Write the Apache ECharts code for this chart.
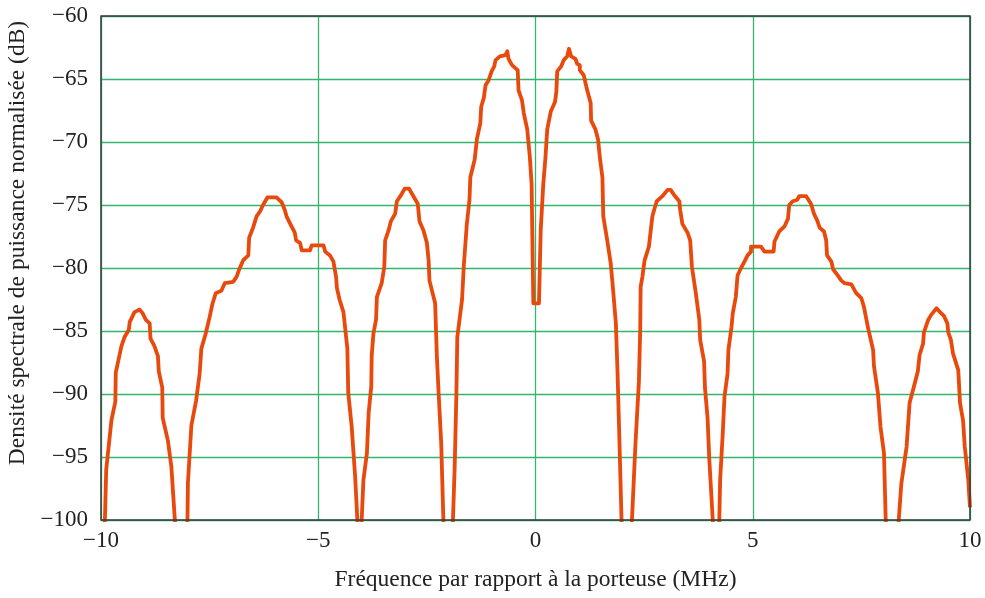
<!DOCTYPE html>
<html>
<head>
<meta charset="utf-8">
<script src="https://cdn.jsdelivr.net/npm/echarts@6/dist/echarts.min.js"></script>
<style>
html,body{margin:0;padding:0;background:#fff;}
#chart{width:985px;height:598px;}
</style>
</head>
<body>
<div id="chart"></div>
<script>
const xTicks = [-10, -5, 0, 5, 10];
const yTicks = [-100, -95, -90, -85, -80, -75, -70, -65, -60];

const freq = [
 -10,-9.91,-9.88,-9.76,-9.67,-9.66,-9.53,-9.46,-9.36,-9.34,-9.23,-9.11,-9.04,-8.97,-8.88,-8.86,-8.77,-8.69,-8.67,-8.59,-8.58,-8.46,-8.38,-8.30,-8.15,
 -8.01,-8.00,-7.92,-7.81,-7.73,-7.69,-7.59,-7.50,-7.44,-7.36,-7.23,-7.15,-6.96,-6.88,-6.83,-6.73,-6.61,-6.59,-6.50,-6.42,-6.34,-6.27,-6.17,-5.96,-5.84,-5.77,-5.73,-5.63,-5.54,-5.51,-5.42,-5.38,-5.19,-5.15,-4.88,-4.84,-4.73,-4.65,-4.59,-4.57,-4.51,-4.42,-4.38,-4.33,-4.31,-4.23,-4.15,-4.10,-4.05,
 -4.00,-3.96,-3.88,-3.84,-3.78,-3.77,-3.73,-3.67,-3.65,-3.54,-3.48,-3.46,-3.38,-3.33,-3.23,-3.19,-3.11,-3.01,-2.91,-2.81,-2.71,-2.67,-2.58,-2.50,-2.46,-2.44,-2.31,-2.27,-2.23,-2.17,-2.12,-2.00,
 -1.90,-1.86,-1.82,-1.80,-1.73,-1.69,-1.65,-1.58,-1.52,-1.50,-1.40,-1.35,-1.27,-1.25,-1.19,-1.15,-1.08,-1.01,-0.95,-0.92,-0.82,-0.69,-0.65,-0.62,-0.54,-0.41,-0.39,-0.31,-0.27,-0.19,-0.13,-0.09,-0.05,
 0.08,0.12,0.18,0.23,0.27,0.35,0.45,0.48,0.50,0.59,0.65,0.73,0.77,0.82,0.92,0.96,1.02,1.02,1.11,1.19,1.27,1.28,1.38,1.44,1.48,1.54,1.56,1.65,1.73,1.78,1.85,1.89,1.93,1.98,2.10,
 2.22,2.30,2.38,2.41,2.42,2.46,2.51,2.61,2.69,2.73,2.79,2.92,3.04,3.11,3.19,3.31,3.33,3.38,3.50,3.56,3.60,3.69,3.77,3.79,3.88,3.90,3.96,4.00,4.08,4.15,
 4.23,4.25,4.31,4.35,4.42,4.44,4.51,4.54,4.61,4.65,4.73,4.81,4.88,4.96,4.96,5.19,5.27,5.48,5.50,5.61,5.73,5.81,5.84,5.92,6.02,6.07,6.23,6.34,6.41,6.48,6.54,6.64,6.69,6.71,6.81,6.85,6.96,7.04,7.11,7.27,7.38,7.50,7.56,7.65,7.77,7.79,7.88,7.94,8.02,8.06,8.20,
 8.36,8.42,8.54,8.61,8.71,8.80,8.84,8.92,8.94,9.04,9.11,9.23,9.31,9.40,9.48,9.50,9.56,9.61,9.73,9.77,9.84,9.88,9.96,10.0
];
const psd = [
 -108,-100,-96.0,-92.1,-90.6,-88.3,-86.2,-85.5,-84.9,-84.3,-83.5,-83.3,-83.6,-84.1,-84.4,-85.6,-86.2,-87.0,-88.2,-89.5,-91.9,-93.7,-95.8,-100,-110,
 -100,-97.1,-92.5,-90.5,-88.4,-86.4,-85.2,-83.9,-82.9,-82.0,-81.8,-81.2,-81.1,-80.7,-80.2,-79.4,-79.0,-77.6,-76.8,-75.9,-75.5,-75.0,-74.4,-74.4,-74.8,-75.4,-75.9,-76.6,-77.2,-77.8,-78.0,-78.6,-78.6,-78.2,-78.2,-78.7,-79.0,-79.5,-80.7,-81.6,-82.5,-83.5,-83.6,-86.4,-89.9,-92.6,-96.6,-100,-110,
 -100,-96.8,-94.7,-91.5,-89.4,-87.0,-85.2,-84.1,-82.3,-81.2,-79.9,-77.8,-77.0,-76.3,-75.7,-74.7,-74.3,-73.7,-73.7,-74.3,-74.9,-76.3,-77.0,-78.0,-79.4,-81.0,-82.8,-87.0,-89.9,-93.9,-100,-110,
 -100,-95.8,-89.9,-85.5,-83.6,-82.5,-79.8,-76.5,-74.6,-72.8,-71.4,-69.8,-68.5,-67.2,-66.5,-65.5,-65.1,-64.4,-64.0,-63.5,-63.2,-63.1,-62.8,-63.4,-63.9,-64.3,-65.9,-66.7,-67.7,-69.0,-71.2,-73.3,-82.8,
 -82.8,-77.0,-73.3,-71.2,-69.0,-67.6,-66.8,-66.0,-64.4,-64.0,-63.5,-63.2,-62.6,-63.2,-63.4,-63.8,-63.9,-64.3,-64.7,-65.9,-66.9,-68.3,-69.0,-69.8,-71.2,-72.8,-75.9,-77.8,-79.6,-81.5,-84.4,-88.5,-93.5,-100,-110,
 -100,-94,-89,-84.9,-81.5,-80.7,-79.4,-78.3,-75.9,-75.4,-74.7,-74.3,-73.8,-73.8,-74.2,-74.7,-75.4,-76.5,-77.2,-77.8,-79.9,-82.0,-84.1,-85.7,-87.4,-89.5,-91.9,-95.2,-100,-110,
 -100,-96.8,-93.1,-90.2,-88.4,-86.5,-84.7,-83.6,-82.3,-80.6,-80.0,-79.5,-79.0,-78.7,-78.3,-78.3,-78.7,-78.7,-77.9,-77.1,-76.7,-76.1,-75.0,-74.7,-74.6,-74.3,-74.3,-74.9,-75.7,-76.2,-76.8,-77.1,-77.8,-79.0,-79.5,-80.1,-80.6,-81.0,-81.2,-81.3,-82.0,-82.4,-83.1,-84.7,-86.5,-87.8,-89.9,-92.6,-94.7,-100,-110,
 -100,-97.1,-94.2,-90.7,-89.4,-88.2,-86.9,-86.0,-85.1,-84.1,-83.7,-83.2,-83.5,-83.8,-84.4,-85.1,-85.7,-86.8,-88.1,-90.7,-92.1,-94.2,-96.8,-99.0
];

const data = freq.map((f, i) => [f, psd[i]]);
const minus = v => String(v).replace('-', '\u2212');
const font = '"Liberation Serif", "DejaVu Serif", serif';
const grid = () => ({ show: true, lineStyle: { color: '#34b46c', width: 1.3 } });
const xMin = xTicks[0], xMax = xTicks[xTicks.length - 1];
const yMin = yTicks[0], yMax = yTicks[yTicks.length - 1];

const chart = echarts.init(document.getElementById('chart'));
chart.setOption({
  animation: false,
  backgroundColor: '#fff',
  grid: {
    left: 101, right: 15, top: 16, bottom: 78, containLabel: false, outerBoundsMode: 'none',
    show: true, z: 10, backgroundColor: 'transparent', borderColor: '#2f3b3b', borderWidth: 1.5
  },
  xAxis: {
    type: 'value', min: xMin, max: xMax, interval: 5,
    name: 'Fréquence par rapport à la porteuse (MHz)', nameLocation: 'middle', nameGap: 48,
    nameTextStyle: { fontFamily: font, fontSize: 23.5, color: '#222' },
    axisLine: { show: false, onZero: false },
    axisTick: { show: false },
    axisLabel: { fontFamily: font, fontSize: 23, color: '#222', margin: 9, formatter: minus },
    splitLine: grid()
  },
  yAxis: {
    type: 'value', min: yMin, max: yMax, interval: 5,
    name: 'Densité spectrale de puissance normalisée (dB)', nameLocation: 'middle', nameGap: 56,
    nameTextStyle: { fontFamily: font, fontSize: 23.5, color: '#222', padding: [0, 0, 0, 50] },
    axisLine: { show: false, onZero: false },
    axisTick: { show: false },
    axisLabel: { fontFamily: font, fontSize: 23, color: '#222', margin: 13, formatter: minus },
    splitLine: grid()
  },
  series: [{
    type: 'line', data: data, showSymbol: false, symbol: 'none', clip: true,
    lineStyle: { color: '#e8490c', width: 3.8, join: 'round' }
  }]
});
</script>
</body>
</html>
